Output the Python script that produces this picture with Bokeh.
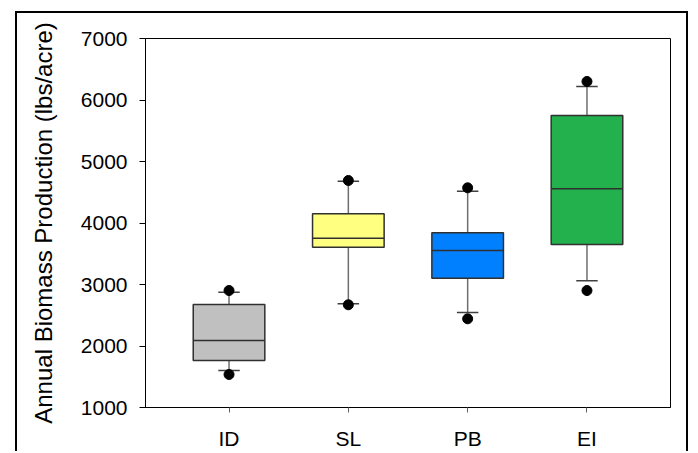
from bokeh.plotting import figure
from bokeh.models import Range1d, FixedTicker, ColumnDataSource
from bokeh.embed import file_html
from bokeh.resources import INLINE

# ---- data ----
categories = ["ID", "SL", "PB", "EI"]
positions = [1, 2, 3, 4]
q1 = [1764, 3607, 3103, 3650]
median = [2089, 3753, 3553, 4556]
q3 = [2675, 4150, 3840, 5748]
lower_whisker = [1600, 2686, 2545, 3060]
upper_whisker = [2875, 4680, 4517, 6220]
outlier_low = [1537, 2670, 2442, 2902]
outlier_high = [2902, 4691, 4572, 6301]
box_colors = ["#c0c0c0", "#ffff80", "#0080ff", "#22b14c"]
y_ticks = [1000, 2000, 3000, 4000, 5000, 6000, 7000]

BOX_HALF = 0.3
CAP_HALF = 0.09

src = ColumnDataSource(dict(
    x=positions,
    x0=[p - BOX_HALF for p in positions],
    x1=[p + BOX_HALF for p in positions],
    c0=[p - CAP_HALF for p in positions],
    c1=[p + CAP_HALF for p in positions],
    q1=q1, med=median, q3=q3, lw=lower_whisker, uw=upper_whisker,
    ol=outlier_low, oh=outlier_high, color=box_colors,
))

p = figure(width=673, height=440, output_backend="svg", toolbar_location=None,
           x_range=Range1d(0.3, 4.7), y_range=Range1d(1000, 7000),
           min_border_left=128, min_border_top=25, min_border_right=20,
           min_border_bottom=46)

# outer black border of the picture (open at the bottom, as in the original crop)
p.styles = {
    "border-top": "2px solid black",
    "border-left": "2px solid black",
    "border-right": "2px solid black",
    "margin": "11px 0px 0px 15px",
}

p.grid.visible = False
p.outline_line_color = "black"
p.outline_line_width = 1
p.background_fill_color = "white"
p.border_fill_color = "white"

FONT = "Liberation Sans"

# whiskers
p.segment(x0="x", y0="q3", x1="x", y1="uw", source=src, line_color="#6e6e6e", line_width=1.5)
p.segment(x0="x", y0="q1", x1="x", y1="lw", source=src, line_color="#6e6e6e", line_width=1.5)
# caps
p.segment(x0="c0", y0="uw", x1="c1", y1="uw", source=src, line_color="#404040", line_width=1.5)
p.segment(x0="c0", y0="lw", x1="c1", y1="lw", source=src, line_color="#404040", line_width=1.5)
# boxes
p.quad(left="x0", right="x1", bottom="q1", top="q3", source=src,
       fill_color="color", line_color="#303030", line_width=1.5)
# medians
p.segment(x0="x0", y0="med", x1="x1", y1="med", source=src, line_color="#303030", line_width=1.5)
# outliers
p.scatter(x="x", y="oh", source=src, size=10, color="black")
p.scatter(x="x", y="ol", source=src, size=10, color="black")

# x axis
xa = p.xaxis[0]
xa.ticker = FixedTicker(ticks=positions)
xa.major_label_overrides = {pos: lab for pos, lab in zip(positions, categories)}
xa.major_label_text_font = FONT
xa.major_label_text_font_size = "21px"
xa.major_label_text_color = "black"
xa.major_tick_out = 5
xa.major_tick_in = 0
xa.major_tick_line_color = "#606060"
xa.minor_tick_line_color = None
xa.axis_line_color = "black"
xa.major_label_standoff = 14

# y axis
ya = p.yaxis[0]
ya.ticker = FixedTicker(ticks=y_ticks)
ya.major_label_text_font = FONT
ya.major_label_text_font_size = "21px"
ya.major_label_text_color = "black"
ya.major_tick_out = 6
ya.major_tick_in = 0
ya.minor_tick_line_color = None
ya.axis_line_color = "black"
ya.major_label_standoff = 12
ya.axis_label = "Annual Biomass Production (lbs/acre)"
ya.axis_label_text_font = FONT
ya.axis_label_text_font_size = "24px"
ya.axis_label_text_font_style = "normal"
ya.axis_label_text_color = "black"
ya.axis_label_standoff = 21

open("out.html", "w").write(file_html(p, INLINE))
